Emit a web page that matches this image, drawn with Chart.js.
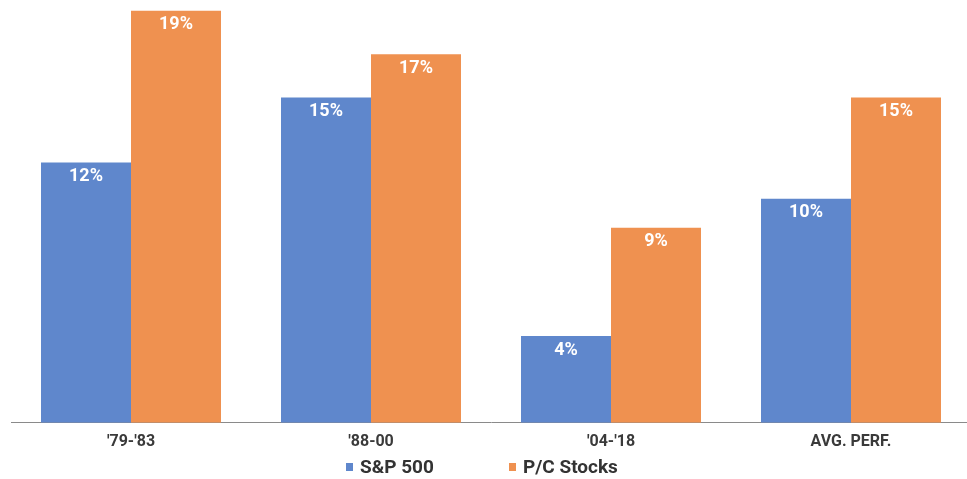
<!DOCTYPE html>
<html>
<head>
<meta charset="utf-8">
<script src="https://cdn.jsdelivr.net/npm/chart.js@4.4.0/dist/chart.umd.min.js"></script>
<style>
    html, body { margin: 0; padding: 0; background: #fff; overflow: hidden; }
    #wrap { position: relative; width: 975px; height: 479px; }
    #legend { position: absolute; top: 455px; left: 0; width: 967px; font-family: Roboto, sans-serif; font-weight: 700; font-size: 19px; color: #333; }
    .item { position: absolute; top: 0; white-space: nowrap; }
    .box { display: inline-block; width: 7px; height: 8px; margin-right: 7px; vertical-align: 2px; }
</style>
</head>
<body>
<div id="wrap">
    <canvas id="barChart" width="975" height="479"></canvas>
    <div id="legend"></div>
</div>
<script>
// chart data
const periods = ["'79-'83", "'88-00", "'04-'18", "AVG. PERF."];
const spReturns = [12, 15, 4, 10.33];
const pcReturns = [19, 17, 9, 15];
const seriesNames = ['S&P 500', 'P/C Stocks'];
const blue = '#5F87CC';
const orange = '#EF9150';

// white value labels inside the top of each bar
const valueLabels = {
    id: 'valueLabels',
    afterDatasetsDraw(chart) {
        const ctx = chart.ctx;
        ctx.save();
        ctx.fillStyle = '#fff';
        ctx.font = '700 18px Roboto, sans-serif';
        ctx.textAlign = 'center';
        ctx.textBaseline = 'middle';
        chart.data.datasets.forEach((ds, i) => {
            chart.getDatasetMeta(i).data.forEach((bar, j) => {
                ctx.fillText(Math.round(ds.data[j]) + '%', bar.x, bar.y + 14);
            });
        });
        ctx.restore();
    }
};

var ctx = document.getElementById('barChart').getContext('2d');
var myChart = new Chart(ctx, {
    type: 'bar',
    data: {
        labels: periods,
        datasets: [{
            label: seriesNames[0],
            data: spReturns,
            backgroundColor: blue
        },
        {
            label: seriesNames[1],
            data: pcReturns,
            backgroundColor: orange
        }]
    },
    options: {
        responsive: false,
        animation: false,
        layout: {
            padding: { left: 11, right: 4, top: 0, bottom: 17 }
        },
        datasets: {
            bar: { categoryPercentage: 0.75, barPercentage: 1.0 }
        },
        scales: {
            x: {
                grid: { display: false, drawTicks: false },
                border: { display: true, color: '#8a8a8a', width: 1 },
                ticks: {
                    padding: 10,
                    color: '#3a3a3a',
                    font: { family: 'Roboto', weight: '700', size: 16 }
                }
            },
            y: {
                display: false,
                min: 0,
                max: 19.5
            }
        },
        plugins: {
            legend: { display: false },
            tooltip: { enabled: false }
        }
    },
    plugins: [valueLabels]
});

// legend below the axis
var legendDiv = document.getElementById('legend');
var legendX = [346, 509];
[blue, orange].forEach(function(color, i) {
    var item = document.createElement('div');
    item.className = 'item';
    item.style.left = legendX[i] + 'px';
    item.innerHTML = '<span class="box" style="background:' + color + '"></span>' + seriesNames[i];
    legendDiv.appendChild(item);
});
</script>
</body>
</html>
